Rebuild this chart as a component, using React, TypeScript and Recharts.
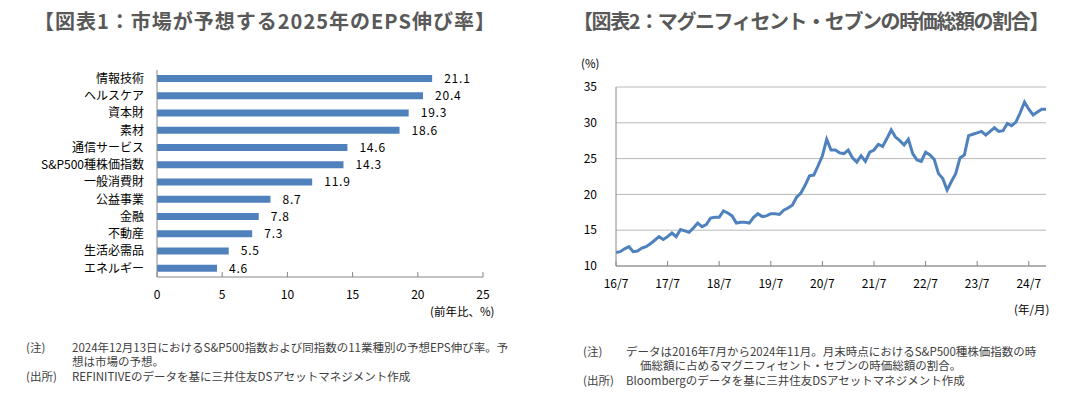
import { BarChart, Bar, XAxis, YAxis, LabelList, LineChart, Line, CartesianGrid } from 'recharts';

// 図表1: 2025年の予想EPS伸び率
const sectors = [
  '情報技術', 'ヘルスケア', '資本財', '素材', '通信サービス', 'S&P500種株価指数',
  '一般消費財', '公益事業', '金融', '不動産', '生活必需品', 'エネルギー',
];
const epsGrowth = [21.1, 20.4, 19.3, 18.6, 14.6, 14.3, 11.9, 8.7, 7.8, 7.3, 5.5, 4.6];
const epsTicks = [0, 5, 10, 15, 20, 25];

// 図表2: マグニフィセント・セブンの時価総額の割合 (2016/7 - 2024/11, 月末)
const shareValues = [
  11.9, 12.0, 12.4, 12.7, 12.0, 12.1, 12.5, 12.7, 13.1, 13.6, 14.1, 13.7,
  14.1, 14.6, 14.1, 15.1, 14.9, 14.7, 15.3, 16.0, 15.5, 15.8, 16.7, 16.8,
  16.8, 17.7, 17.4, 17.0, 16.0, 16.1, 16.1, 16.0, 16.8, 17.3, 16.9, 17.0,
  17.3, 17.3, 17.2, 17.8, 18.1, 18.5, 19.6, 20.2, 21.3, 22.6, 22.7, 24.0,
  25.4, 27.7, 26.2, 26.2, 25.8, 25.7, 26.2, 25.1, 24.5, 25.4, 24.6, 25.9,
  26.2, 27.0, 26.7, 27.8, 29.0, 28.0, 27.5, 26.9, 27.7, 25.7, 24.8, 24.6,
  25.9, 25.5, 24.9, 22.9, 22.2, 20.6, 21.8, 22.9, 25.1, 25.5, 28.2, 28.4,
  28.6, 28.8, 28.3, 28.8, 29.3, 28.8, 28.9, 29.9, 29.6, 30.1, 31.4, 32.9,
  31.9, 31.1, 31.5, 31.9, 31.9,
];
const yearTicks = ['16/7', '17/7', '18/7', '19/7', '20/7', '21/7', '22/7', '23/7', '24/7'];
const shareTicks = [10, 15, 20, 25, 30, 35];

const months: string[] = [];
for (let i = 0; i < shareValues.length; i++) {
  const m = 7 + i;
  const y = 16 + Math.floor((m - 1) / 12);
  months.push(`${y}/${((m - 1) % 12) + 1}`);
}

const barData = sectors.map((name, i) => ({ name, value: epsGrowth[i] }));
const lineData = months.map((month, i) => ({ month, share: shareValues[i] }));

const FONT = '"Noto Sans CJK JP", "Noto Sans", sans-serif';
const BLUE = '#4F81BD';
const AXIS = '#868686';
const tickStyle = { fontSize: 12, fill: '#000', fontFamily: FONT };

const abs = (left: number, top: number, extra: React.CSSProperties = {}): React.CSSProperties => ({
  position: 'absolute', left, top, whiteSpace: 'nowrap', fontFamily: FONT, ...extra,
});

const titleStyle: React.CSSProperties = { fontSize: 20, fontWeight: 700, color: '#595959', lineHeight: '24px' };
const noteStyle: React.CSSProperties = { fontSize: 11.5, color: '#404040', lineHeight: '15px' };

export default function App() {
  return (
    <div style={{ position: 'absolute', left: 0, top: 0, width: 1084, height: 397, background: '#fff', overflow: 'hidden' }}>
      <div style={abs(34, 9, { ...titleStyle, letterSpacing: 1 })}>【図表1：市場が予想する2025年のEPS伸び率】</div>
      <div style={abs(573, 9, { ...titleStyle, letterSpacing: -1.4 })}>【図表2：マグニフィセント・セブンの時価総額の割合】</div>

      <div style={{ position: 'absolute', left: 0, top: 0 }}>
        <BarChart width={540} height={330} data={barData} layout="vertical"
          margin={{ top: 70, right: 57, left: 0, bottom: 23 }} barSize={7}>
          <XAxis type="number" domain={[0, 25]} ticks={epsTicks} height={30}
            stroke={AXIS} tick={tickStyle} tickSize={-5} tickMargin={18} />
          <YAxis type="category" dataKey="name" width={157} stroke={AXIS}
            tick={tickStyle} tickLine={false} tickSize={0} tickMargin={13} interval={0} />
          <Bar dataKey="value" fill={BLUE} isAnimationActive={false}>
            <LabelList dataKey="value" position="right" offset={12}
              style={{ fontSize: 12, fill: '#000', fontFamily: FONT, letterSpacing: 0.8 }} />
          </Bar>
        </BarChart>
      </div>
      <div style={abs(430, 303, { fontSize: 11.5, color: '#000' })}>(前年比、%)</div>

      <div style={{ position: 'absolute', left: 540, top: 0 }}>
        <LineChart width={544} height={330} data={lineData}
          margin={{ top: 87, right: 38, left: 0, bottom: 34 }}>
          <CartesianGrid horizontal vertical={false} stroke="#B9B9B9" />
          <XAxis dataKey="month" ticks={yearTicks} interval={0} height={30}
            stroke={AXIS} tick={tickStyle} tickSize={-5} tickMargin={18} />
          <YAxis domain={[10, 35]} ticks={shareTicks} width={76} stroke={AXIS}
            tick={tickStyle} tickLine={false} tickSize={0} tickMargin={19} />
          <Line dataKey="share" stroke={BLUE} strokeWidth={3} dot={false} isAnimationActive={false} />
        </LineChart>
      </div>
      <div style={abs(581, 55, { fontSize: 11.5, color: '#000' })}>(%)</div>
      <div style={abs(1014, 301, { fontSize: 11.5, color: '#000' })}>(年/月)</div>

      <div style={abs(26, 340, noteStyle)}>(注)</div>
      <div style={abs(72, 340, noteStyle)}>2024年12月13日におけるS&amp;P500指数および同指数の11業種別の予想EPS伸び率。予</div>
      <div style={abs(72, 354, noteStyle)}>想は市場の予想。</div>
      <div style={abs(26, 369, noteStyle)}>(出所)</div>
      <div style={abs(72, 369, noteStyle)}>REFINITIVEのデータを基に三井住友DSアセットマネジメント作成</div>

      <div style={abs(583, 344, noteStyle)}>(注)</div>
      <div style={abs(626, 344, noteStyle)}>データは2016年7月から2024年11月。月末時点におけるS&amp;P500種株価指数の時</div>
      <div style={abs(640, 358, noteStyle)}>価総額に占めるマグニフィセント・セブンの時価総額の割合。</div>
      <div style={abs(583, 373, noteStyle)}>(出所)</div>
      <div style={abs(626, 373, noteStyle)}>Bloombergのデータを基に三井住友DSアセットマネジメント作成</div>
    </div>
  );
}
